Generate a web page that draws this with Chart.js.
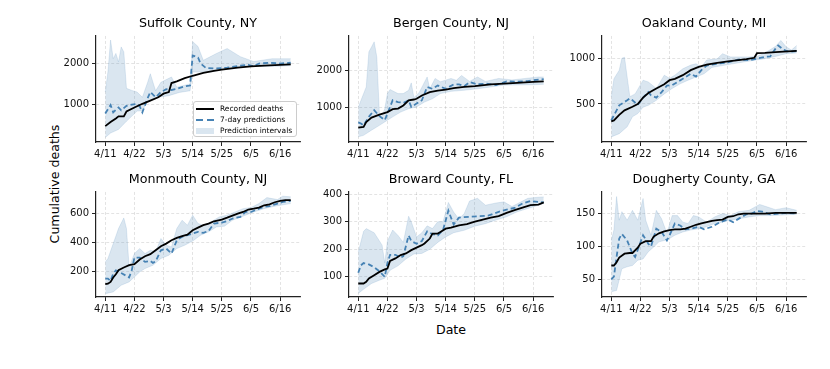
<!DOCTYPE html>
<html>
<head>
<meta charset="utf-8">
<script src="https://cdn.jsdelivr.net/npm/chart.js@4.4.0/dist/chart.umd.min.js"></script>
<style>
body { margin: 0; background: #fff; width: 830px; height: 369px; position: relative; overflow: hidden; font-family: "DejaVu Sans", sans-serif; color: #000; }
.panel { position: absolute; }
.ylabel { position: absolute; left: 54px; top: 184px; transform: translate(-50%, -50%) rotate(-90deg); font-size: 12.6px; white-space: nowrap; }
.xlabel { position: absolute; left: 451px; top: 329px; transform: translate(-50%, -50%); font-size: 12.6px; }
.legend { position: absolute; left: 193px; top: 101px; width: 104px; height: 36px; box-sizing: border-box; border: 1px solid #ccc; border-radius: 3px; background: rgba(255,255,255,0.85); font-size: 7.5px; padding-top: 1px; z-index: 10; }
.row { height: 11.2px; display: flex; align-items: center; white-space: nowrap; }
.h { display: inline-block; width: 18px; margin-left: 2px; margin-right: 6px; }
.line-black { height: 2px; background: #000; }
.line-blue { height: 2px; background: repeating-linear-gradient(to right, #4682b4 0 7px, transparent 7px 11px); }
.patch { height: 6px; background: rgba(70,130,180,0.2); }
</style>
</head>
<body>
<div class="ylabel">Cumulative deaths</div>
<div class="xlabel">Date</div>
<div class="legend">
  <div class="row"><span class="h line-black"></span>Recorded deaths</div>
  <div class="row"><span class="h line-blue"></span>7-day predictions</div>
  <div class="row"><span class="h patch"></span>Prediction intervals</div>
</div>
<script>
// days since 4/11
var dateTicks = [0, 11, 22, 33, 44, 55, 66];
var dateLabels = ['4/11', '4/22', '5/3', '5/14', '5/25', '6/5', '6/16'];

var suffolkRecorded = [[0,460],[2,560],[4,650],[5,700],[7,700],[8,820],[11,920],[14,1010],[17,1090],[20,1170],[22,1260],[24,1300],[25,1520],[27,1560],[30,1640],[33,1700],[37,1770],[41,1820],[44,1850],[50,1900],[55,1930],[60,1950],[66,1970],[70,1980]];
var suffolkPred = [[0,770],[2,980],[3,800],[5,920],[6,850],[8,960],[10,990],[12,1010],[13,950],[14,800],[16,1150],[17,1300],[19,1170],[21,1300],[23,1370],[25,1350],[27,1380],[30,1440],[32,1460],[33,2200],[35,2150],[36,2000],[38,1890],[42,1880],[46,1900],[50,1940],[54,1970],[56,1930],[58,2000],[62,2020],[66,2000],[70,2020]];
var suffolkLow = [[0,180],[2,290],[5,380],[8,580],[12,830],[14,840],[16,1080],[20,1170],[24,1210],[28,1290],[32,1330],[33,1790],[40,1790],[44,1870],[50,1910],[55,1930],[66,1935],[70,1950]];
var suffolkHigh = [[0,1300],[1,1800],[2,2580],[3,2120],[4,2250],[5,2040],[6,2410],[7,2290],[8,1390],[10,1340],[12,1300],[14,1170],[16,1540],[17,1750],[19,1330],[21,1540],[25,1670],[27,1420],[32,1500],[33,2540],[35,2420],[37,2080],[42,2250],[46,2370],[51,2170],[56,2050],[63,2120],[70,2120]];
var suffolkTicks = [1000, 2000];
var suffolkRange = [70, 2680];

var bergenRecorded = [[0,450],[2,470],[3,600],[5,720],[8,800],[11,870],[13,950],[15,965],[17,1050],[19,1190],[21,1210],[22,1230],[24,1320],[27,1410],[30,1450],[33,1480],[36,1520],[40,1550],[44,1570],[50,1620],[55,1640],[60,1660],[66,1685],[70,1700]];
var bergenPred = [[0,590],[1,560],[2,510],[4,740],[6,920],[8,760],[10,650],[11,830],[13,1190],[15,1140],[17,1120],[19,1190],[20,1010],[22,1100],[24,1190],[26,1550],[28,1500],[30,1590],[33,1500],[36,1620],[38,1620],[40,1570],[42,1680],[45,1620],[48,1640],[52,1600],[56,1700],[60,1690],[64,1710],[68,1750],[70,1760]];
var bergenLow = [[0,200],[2,240],[5,380],[8,510],[11,650],[13,740],[16,870],[19,960],[22,1010],[25,1140],[28,1230],[31,1370],[35,1430],[40,1460],[45,1500],[50,1550],[55,1600],[66,1610],[70,1620]];
var bergenHigh = [[0,1000],[3,1550],[4,2500],[5,2630],[6,2770],[7,2360],[8,800],[9,760],[10,960],[11,1370],[12,1480],[15,1370],[17,1370],[19,1460],[20,1660],[21,1260],[23,1400],[26,1820],[27,1500],[29,1780],[31,1690],[35,1780],[37,1730],[39,1860],[42,1700],[45,1820],[48,1700],[53,1780],[58,1740],[63,1780],[68,1820],[70,1820]];
var bergenTicks = [1000, 2000];
var bergenRange = [60, 2930];

var oaklandRecorded = [[0,310],[1,320],[3,380],[5,430],[8,470],[10,500],[12,570],[14,620],[17,670],[20,715],[22,760],[24,775],[27,815],[30,870],[33,905],[36,930],[40,950],[44,965],[48,980],[51,990],[54,1005],[55,1055],[58,1058],[62,1066],[65,1073],[70,1080]];
var oaklandPred = [[0,320],[2,430],[3,485],[6,540],[7,560],[8,540],[10,490],[12,570],[14,630],[15,595],[17,570],[19,630],[21,700],[23,705],[25,740],[27,775],[30,830],[32,800],[34,870],[36,920],[40,940],[44,955],[48,985],[52,978],[55,995],[58,1015],[60,1020],[62,1105],[63,1140],[65,1095],[67,1070],[70,1080]];
var oaklandLow = [[0,140],[3,175],[6,250],[8,360],[10,395],[12,465],[14,485],[17,540],[20,610],[23,670],[26,720],[29,760],[32,795],[35,830],[38,900],[42,920],[46,940],[50,960],[54,978],[58,995],[62,1020],[66,1050],[70,1058]];
var oaklandHigh = [[0,580],[1,775],[3,870],[4,1000],[5,1010],[7,580],[9,610],[12,760],[14,740],[17,670],[20,815],[22,780],[24,815],[27,885],[30,925],[32,940],[34,905],[36,980],[40,995],[42,1050],[45,1015],[52,1015],[55,1020],[58,1058],[62,1130],[64,1195],[66,1125],[68,1090],[70,1140]];
var oaklandTicks = [500, 1000];
var oaklandRange = [84, 1244];

var monmouthRecorded = [[0,113],[1,117],[2,129],[3,159],[4,182],[5,209],[7,228],[9,244],[11,251],[13,283],[15,306],[17,320],[19,347],[21,375],[23,393],[25,416],[27,432],[29,444],[31,455],[33,485],[35,503],[37,520],[39,531],[41,547],[44,559],[46,572],[48,586],[50,600],[52,611],[54,628],[56,634],[58,641],[60,657],[62,664],[64,678],[66,687],[68,692],[70,692]];
var monmouthPred = [[0,152],[1,152],[2,136],[3,186],[4,209],[6,190],[8,170],[9,160],[10,209],[11,297],[13,297],[15,267],[17,274],[18,260],[19,270],[21,347],[23,359],[25,324],[27,416],[29,440],[31,451],[33,462],[35,474],[37,467],[39,480],[41,531],[44,538],[46,547],[48,566],[51,577],[53,611],[55,611],[58,634],[60,646],[62,651],[65,669],[67,680],[70,687]];
var monmouthLow = [[0,48],[3,60],[6,106],[9,129],[11,163],[13,198],[15,221],[18,244],[21,290],[24,313],[27,359],[30,382],[33,411],[36,451],[39,474],[42,508],[45,513],[48,554],[52,582],[56,611],[60,634],[64,651],[70,669]];
var monmouthHigh = [[0,267],[1,290],[3,393],[5,497],[7,570],[8,497],[9,232],[11,324],[13,359],[15,324],[17,347],[19,336],[21,428],[23,382],[25,370],[27,497],[29,554],[31,520],[33,589],[35,531],[37,520],[40,543],[43,577],[46,589],[49,611],[52,634],[55,641],[58,669],[61,710],[63,703],[65,697],[67,720],[70,715]];
var monmouthTicks = [200, 400, 600];
var monmouthRange = [25, 749];

var browardRecorded = [[0,76],[2,76],[3,82],[4,94],[6,106],[8,118],[10,127],[11,130],[12,158],[14,167],[16,179],[18,185],[20,197],[22,206],[24,215],[25,221],[27,239],[28,257],[30,257],[31,263],[33,275],[35,279],[38,287],[41,291],[44,300],[47,308],[50,315],[53,320],[56,332],[59,342],[62,351],[65,360],[68,362],[70,370]];
var browardPred = [[0,115],[1,142],[2,150],[4,145],[6,135],[8,120],[10,100],[11,150],[12,180],[14,180],[16,170],[17,175],[19,250],[20,230],[22,220],[24,230],[26,265],[28,255],[30,250],[32,270],[34,340],[36,290],[38,315],[42,318],[46,320],[49,322],[53,336],[56,344],[59,350],[62,366],[65,375],[68,372],[70,370]];
var browardLow = [[0,40],[2,55],[5,76],[8,88],[10,95],[12,124],[15,140],[18,165],[21,183],[24,185],[27,200],[30,225],[33,245],[36,260],[40,269],[44,284],[48,293],[52,306],[56,318],[60,336],[64,348],[68,360],[70,366]];
var browardHigh = [[0,190],[2,265],[3,275],[6,260],[9,215],[10,150],[11,230],[13,270],[15,250],[17,225],[19,320],[20,300],[22,245],[24,260],[26,285],[28,275],[30,300],[32,300],[34,370],[36,335],[38,310],[40,330],[42,375],[45,385],[48,360],[52,368],[55,372],[58,355],[61,370],[64,385],[67,388],[70,390]];
var browardTicks = [100, 200, 300, 400];
var browardRange = [27, 408];

var doughertyRecorded = [[0,71],[1,71],[2,76],[3,83],[5,89],[7,90],[8,90],[10,98],[11,104],[13,108],[15,108],[16,115],[18,120],[20,123],[22,125],[24,126],[26,126],[28,127],[30,130],[32,133],[34,135],[36,137],[38,139],[40,140],[42,141],[44,145],[46,146],[48,149],[50,150],[58,150],[62,151],[70,151]];
var doughertyPred = [[0,50],[1,54],[2,84],[3,112],[4,119],[6,109],[8,89],[9,84],[10,95],[12,117],[14,104],[15,100],[17,127],[19,122],[21,109],[22,117],[24,135],[26,132],[28,126],[30,127],[33,130],[35,126],[38,130],[41,137],[44,141],[46,137],[48,142],[51,149],[53,150],[55,154],[57,153],[60,149],[63,150],[66,151],[70,150]];
var doughertyLow = [[0,31],[2,33],[4,66],[6,69],[8,71],[10,79],[12,81],[14,92],[16,99],[18,107],[20,109],[22,112],[24,117],[27,122],[30,125],[33,127],[36,130],[39,135],[42,137],[45,140],[48,142],[52,145],[56,147],[60,147],[65,148],[70,149]];
var doughertyHigh = [[0,109],[1,125],[2,176],[3,140],[4,153],[6,140],[8,155],[10,140],[12,173],[13,140],[15,117],[17,155],[19,142],[21,120],[23,147],[25,147],[27,137],[29,135],[31,147],[33,145],[36,137],[39,145],[42,150],[45,147],[48,153],[52,155],[56,164],[59,160],[62,156],[66,159],[70,155]];
var doughertyTicks = [50, 100, 150];
var doughertyRange = [23, 183];

var panels = [
    {title: 'Suffolk County, NY', rec: suffolkRecorded, pred: suffolkPred, low: suffolkLow, high: suffolkHigh, ticks: suffolkTicks, range: suffolkRange},
    {title: 'Bergen County, NJ', rec: bergenRecorded, pred: bergenPred, low: bergenLow, high: bergenHigh, ticks: bergenTicks, range: bergenRange},
    {title: 'Oakland County, MI', rec: oaklandRecorded, pred: oaklandPred, low: oaklandLow, high: oaklandHigh, ticks: oaklandTicks, range: oaklandRange},
    {title: 'Monmouth County, NJ', rec: monmouthRecorded, pred: monmouthPred, low: monmouthLow, high: monmouthHigh, ticks: monmouthTicks, range: monmouthRange},
    {title: 'Broward County, FL', rec: browardRecorded, pred: browardPred, low: browardLow, high: browardHigh, ticks: browardTicks, range: browardRange},
    {title: 'Dougherty County, GA', rec: doughertyRecorded, pred: doughertyPred, low: doughertyLow, high: doughertyHigh, ticks: doughertyTicks, range: doughertyRange}
];

// axes boxes (plot area) in page pixels
var colLefts = [96, 349, 602];
var rowTops = [36, 192];
var rowHeights = [106, 105];
var plotWidth = 204;
var yAxisWidth = 50, titleHeight = 26, xAxisHeight = 22, rightPad = 4;

Chart.defaults.font.family = '"DejaVu Sans", sans-serif';

var toXY = function(pairs) {
    return pairs.map(function(p) { return {x: p[0], y: p[1]}; });
};

var gridStyle = {color: 'rgba(0,0,0,0.14)', lineWidth: 0.8, tickLength: 4, tickColor: '#222', tickWidth: 1, tickBorderDash: []};
var borderStyle = {color: '#222', width: 1.2, dash: [3, 2]};
var tickFont = {size: 10};

var makePanel = function(p, left, top, h) {
    var canvas = document.createElement('canvas');
    canvas.className = 'panel';
    canvas.width = yAxisWidth + plotWidth + rightPad;
    canvas.height = titleHeight + h + xAxisHeight;
    canvas.style.left = (left - yAxisWidth) + 'px';
    canvas.style.top = (top - titleHeight) + 'px';
    document.body.appendChild(canvas);

    return new Chart(canvas.getContext('2d'), {
        type: 'line',
        data: {
            datasets: [
                {label: 'Recorded deaths', data: toXY(p.rec), borderColor: '#000', borderWidth: 1.8, pointRadius: 0, fill: false},
                {label: '7-day predictions', data: toXY(p.pred), borderColor: '#4682b4', borderWidth: 1.8, borderDash: [5, 3], pointRadius: 0, fill: false},
                {label: 'lower', data: toXY(p.low), borderColor: 'rgba(70,130,180,0.25)', borderWidth: 0.6, pointRadius: 0, fill: false},
                {label: 'Prediction intervals', data: toXY(p.high), borderColor: 'rgba(70,130,180,0.25)', borderWidth: 0.6, pointRadius: 0,
                    backgroundColor: 'rgba(70,130,180,0.2)', fill: '-1'}
            ]
        },
        options: {
            responsive: false,
            animation: false,
            layout: {padding: {left: 0, right: rightPad, top: 0, bottom: 0}},
            plugins: {
                legend: {display: false},
                tooltip: {enabled: false},
                title: {display: true, text: p.title, fullSize: false, color: '#000',
                    font: {size: 12.7, weight: 'normal', lineHeight: 1.2}, padding: {top: 6.3, bottom: 4.4}}
            },
            scales: {
                x: {
                    type: 'linear', min: -3.5, max: 73.5,
                    afterBuildTicks: function(s) { s.ticks = dateTicks.map(function(v) { return {value: v}; }); },
                    afterFit: function(s) { s.height = xAxisHeight; },
                    ticks: {autoSkip: false, maxRotation: 0, padding: 2, color: '#111', font: tickFont,
                        callback: function(v) { return dateLabels[dateTicks.indexOf(v)]; }},
                    grid: gridStyle,
                    border: borderStyle
                },
                y: {
                    min: p.range[0], max: p.range[1],
                    afterBuildTicks: function(s) { s.ticks = p.ticks.map(function(v) { return {value: v}; }); },
                    afterFit: function(s) { s.width = yAxisWidth; },
                    ticks: {padding: 3, color: '#111', font: tickFont, callback: function(v) { return String(v); }},
                    grid: gridStyle,
                    border: borderStyle
                }
            }
        }
    });
};

for (var i = 0; i < panels.length; i++) {
    var r = Math.floor(i / 3), c = i % 3;
    makePanel(panels[i], colLefts[c], rowTops[r], rowHeights[r]);
}
</script>
</body>
</html>
